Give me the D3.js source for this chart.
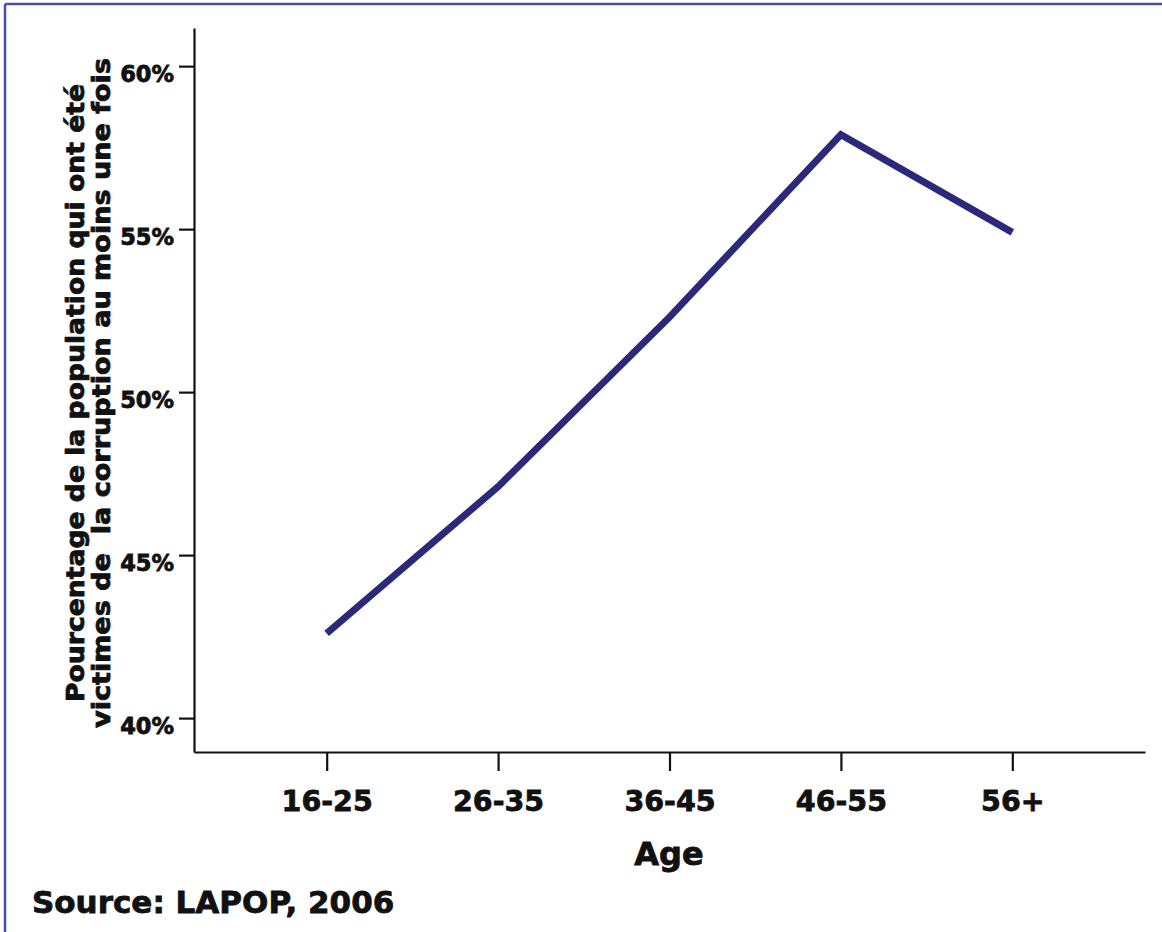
<!DOCTYPE html>
<html>
<head>
<meta charset="utf-8">
<script src="https://cdn.jsdelivr.net/npm/d3@7"></script>
<style>
  body { margin: 0; background: #fff; }
  svg { display: block; }
  text { font-family: "DejaVu Sans", sans-serif; font-weight: bold; fill: #111; stroke: #111; stroke-width: 0.8px; }
</style>
</head>
<body>
<div id="chart"></div>
<script>
// data
const ageGroups = ["16-25", "26-35", "36-45", "46-55", "56+"];
const victimPct = [42.6, 47.1, 52.3, 57.9, 54.9];
const pctTicks = [40, 45, 50, 55, 60];
const yTitleLines = ["Pourcentage de la population qui ont été", "victimes de  la corruption au moins une fois"];

const W = 1162, H = 932;
const lineColor = "#2b2a7a";

const svg = d3.select("#chart").append("svg")
  .attr("width", W)
  .attr("height", H);

// frame (left + top edges only visible)
svg.append("line").attr("x1", 5).attr("y1", 4).attr("x2", W).attr("y2", 4)
  .attr("stroke", "#4b4bb5").attr("stroke-width", 2.5);
svg.append("line").attr("x1", 5).attr("y1", 4).attr("x2", 5).attr("y2", H)
  .attr("stroke", "#4b4bb5").attr("stroke-width", 2.5);

// scales
const x = d3.scalePoint()
  .domain(ageGroups)
  .range([194, 1145])
  .padding(0.774);

const y = d3.scaleLinear()
  .domain([38.96, 61.17])
  .range([752, 28]);

// y axis
const yAxis = d3.axisLeft(y)
  .tickValues(pctTicks)
  .tickFormat(d => d + "%")
  .tickSizeInner(15)
  .tickSizeOuter(0)
  .tickPadding(5);
const yG = svg.append("g")
  .attr("transform", "translate(194,0)")
  .call(yAxis);
yG.select(".domain").attr("stroke", "#111").attr("stroke-width", 2.2);
yG.selectAll(".tick line").attr("stroke", "#111").attr("stroke-width", 2.2);
yG.selectAll(".tick text")
  .attr("font-size", 22.5)
  .attr("dy", "0.68em")
  .style("font-family", "'DejaVu Sans', sans-serif")
  .style("font-weight", "bold")
  .attr("fill", "#111");

// x axis
const xAxis = d3.axisBottom(x)
  .tickSizeInner(19)
  .tickSizeOuter(0)
  .tickPadding(20);
const xG = svg.append("g")
  .attr("transform", "translate(0,752)")
  .call(xAxis);
xG.select(".domain").attr("stroke", "#111").attr("stroke-width", 2.2);
xG.selectAll(".tick line").attr("stroke", "#111").attr("stroke-width", 2.2);
xG.selectAll(".tick text")
  .attr("font-size", 28.5)
  .style("font-family", "'DejaVu Sans', sans-serif")
  .style("font-weight", "bold")
  .attr("fill", "#111");

// line
const line = d3.line()
  .x((d, i) => x(ageGroups[i]))
  .y(d => y(d));
svg.append("path")
  .datum(victimPct)
  .attr("d", line)
  .attr("fill", "none")
  .attr("stroke", lineColor)
  .attr("stroke-width", 7)
  .attr("stroke-linejoin", "miter");

// axis titles
svg.append("text")
  .attr("x", 669)
  .attr("y", 865)
  .attr("text-anchor", "middle")
  .attr("font-size", 32)
  .text("Age");

const yTitle = svg.append("text")
  .attr("transform", "translate(84,393) rotate(-90)")
  .attr("text-anchor", "middle")
  .attr("font-size", 24);
yTitle.append("tspan")
  .attr("x", 0).attr("y", 0)
  .attr("textLength", 618)
  .attr("lengthAdjust", "spacingAndGlyphs")
  .text(yTitleLines[0]);
yTitle.append("tspan")
  .attr("x", 0).attr("y", 26)
  .attr("textLength", 670)
  .attr("lengthAdjust", "spacingAndGlyphs")
  .style("white-space", "pre")
  .text(yTitleLines[1]);

// source note
svg.append("text")
  .attr("x", 32)
  .attr("y", 913)
  .attr("font-size", 31)
  .text("Source: LAPOP, 2006");
</script>
</body>
</html>
